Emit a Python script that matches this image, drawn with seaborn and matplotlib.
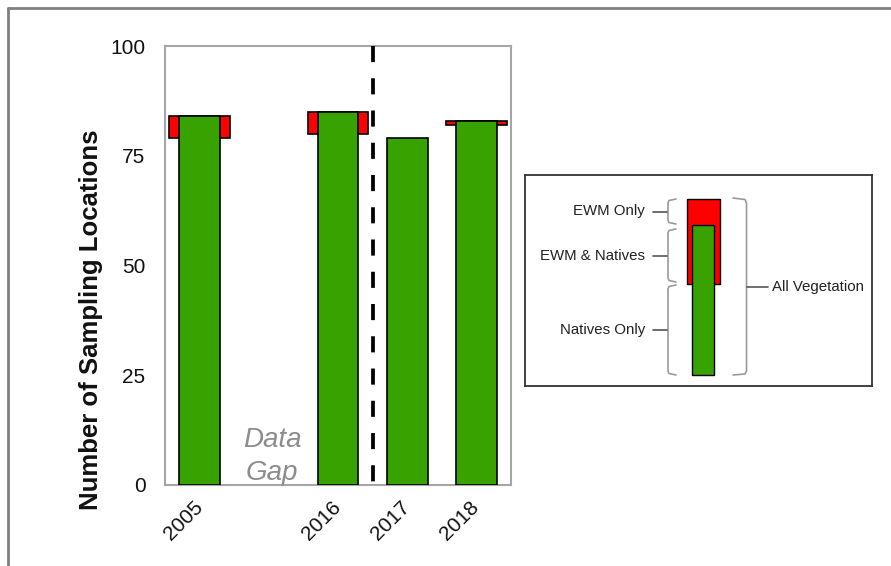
import matplotlib
matplotlib.use("Agg")
import matplotlib.pyplot as plt
from matplotlib.lines import Line2D
import numpy as np
import pandas as pd
import seaborn as sns

# ---------------- data ----------------
years = ["2005", "2016", "2017", "2018"]
natives_only = [79, 80, 79, 82]
ewm_and_natives = [5, 5, 0, 1]
ewm_only = [0, 0, 0, 0]

x_order = ["2005", "gap", "2016", "2017", "2018"]
x_tick_labels = ["2005", "", "2016", "2017", "2018"]
y_ticks = [0, 25, 50, 75, 100]

# legend key (schematic) values
key_natives_only = 91
key_ewm_natives = 59
key_ewm_only = 26
key_labels = ["EWM Only", "EWM & Natives", "Natives Only", "All Vegetation"]

# ---------------- style ----------------
sns.set_theme(style="white")
plt.rcParams["font.family"] = ["Liberation Sans", "DejaVu Sans"]

RED = "#FF0000"
GREEN = "#37A200"
W, H = 891, 566

df = pd.DataFrame({"year": years, "natives_only": natives_only,
                   "ewm_and_natives": ewm_and_natives, "ewm_only": ewm_only})
df["natives_total"] = df["natives_only"] + df["ewm_and_natives"]
df["all_veg"] = df["natives_total"] + df["ewm_only"]
df["ewm_total"] = df["ewm_and_natives"] + df["ewm_only"]

fig = plt.figure(figsize=(W / 100, H / 100), dpi=100)
fig.patch.set_facecolor("white")

def px_axes(x0, y0, x1, y1):
    return fig.add_axes([x0 / W, 1 - y1 / H, (x1 - x0) / W, (y1 - y0) / H])

ax = px_axes(165, 46, 511, 485)

# red bars (span natives-only -> all vegetation)
red_df = df[df["ewm_total"] > 0]
sns.barplot(data=red_df, x="year", y="all_veg", order=x_order, color=RED,
            saturation=1, width=0.88, edgecolor="black", linewidth=1.2,
            errorbar=None, ax=ax, zorder=2)
base_lookup = dict(zip(df["year"], df["natives_only"]))
for p in list(ax.patches):
    c = p.get_x() + p.get_width() / 2
    yr = x_order[int(round(c))]
    base = base_lookup[yr]
    top = p.get_height()
    p.set_y(base)
    p.set_height(top - base)

# green bars (natives total)
sns.barplot(data=df, x="year", y="natives_total", order=x_order, color=GREEN,
            saturation=1, width=0.59, edgecolor="black", linewidth=1.2,
            errorbar=None, ax=ax, zorder=3)

ax.set_xlim(-0.5, len(x_order) - 0.5)
ax.set_ylim(0, 100)
ax.set_yticks(y_ticks)
ax.set_yticklabels([str(v) for v in y_ticks], fontsize=15)
ax.set_xticks(range(len(x_order)))
ax.set_xticklabels(x_tick_labels, fontsize=15, rotation=45, ha="right",
                   va="center", rotation_mode="anchor")
ax.tick_params(axis="y", length=0, pad=14, colors="#111111")
ax.tick_params(axis="x", length=0, pad=14, colors="#111111")
ax.set_xlabel("")
ax.set_ylabel("")
for s in ax.spines.values():
    s.set_color("#a6a6a6")
    s.set_linewidth(1.5)

# divider between 2016 and 2017 (drawn top -> bottom so pattern starts at top)
ax.plot([2.5, 2.5], [1, 0], transform=ax.get_xaxis_transform(),
        color="black", lw=2.7, dashes=(4.3, 4.3), zorder=4, clip_on=False)

# data gap
ax.text(1.05, 8.7, "Data", ha="center", va="baseline", fontsize=20,
        style="italic", color="#8c8c8c", zorder=5)
ax.text(1.05, 1.1, "Gap", ha="center", va="baseline", fontsize=20,
        style="italic", color="#8c8c8c", zorder=5)

fig.text(91 / W, 1 - 320 / H, "Number of Sampling Locations", rotation=90,
         ha="center", va="center", fontsize=18.5, fontweight="bold",
         color="#111111")

# ---------------- legend key box ----------------
lax = px_axes(525, 175, 872, 386)
lax.set_xlim(525, 872)
lax.set_ylim(-11, 200)
lax.set_xticks([])
lax.set_yticks([])
for s in lax.spines.values():
    s.set_color("#333333")
    s.set_linewidth(1.3)

kx = 703.4
lax.bar([kx], [key_ewm_natives + key_ewm_only], bottom=[key_natives_only],
        width=33, color=RED, edgecolor="black", linewidth=1.0, zorder=2)
lax.bar([kx - 0.4], [key_natives_only + key_ewm_natives], width=22.5,
        color=GREEN, edgecolor="black", linewidth=1.0, zorder=3)

bc = "#9a9a9a"

def left_brace(y0, y1):
    xs = [676, 669, 668, 668, 669, 676]
    ys = [y1, y1 - 1.5, y1 - 4, y0 + 4, y0 + 1.5, y0]
    lax.add_line(Line2D(xs, ys, color=bc, lw=1.2))
    mid = (y0 + y1) / 2
    lax.add_line(Line2D([653, 667], [mid, mid], color="#555555", lw=1.2))
    return mid

tot_key = key_natives_only + key_ewm_natives + key_ewm_only
m1 = left_brace(key_natives_only + key_ewm_natives + 1, tot_key)
m2 = left_brace(key_natives_only + 2, key_natives_only + key_ewm_natives - 4)
m3 = left_brace(0, key_natives_only - 1)

# right brace
xs = [733, 745, 746.5, 746.5, 745, 733]
ys = [tot_key + 1, tot_key - 0.5, tot_key - 4, 4, 1, 0]
lax.add_line(Line2D(xs, ys, color=bc, lw=1.2))
mr = tot_key / 2
lax.add_line(Line2D([747, 768], [mr, mr], color="#555555", lw=1.2))

tc = "#222222"
lax.text(645, m1, key_labels[0], ha="right", va="center", fontsize=10.8, color=tc)
lax.text(645, m2, key_labels[1], ha="right", va="center", fontsize=10.8, color=tc)
lax.text(645, m3, key_labels[2], ha="right", va="center", fontsize=10.8, color=tc)
lax.text(772, mr, key_labels[3], ha="left", va="center", fontsize=10.8, color=tc)

# outer frame (top and left edges)
fc = "#808080"
fig.add_artist(Line2D([8 / W, 8 / W], [0, 1 - 8 / H], transform=fig.transFigure,
                      color=fc, lw=2))
fig.add_artist(Line2D([8 / W, 1], [1 - 8 / H, 1 - 8 / H], transform=fig.transFigure,
                      color=fc, lw=2))

fig.savefig("out.png", dpi=100)
